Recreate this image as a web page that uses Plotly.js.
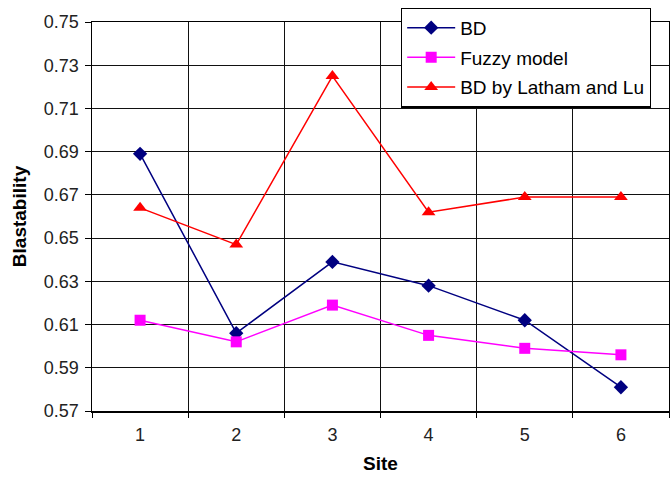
<!DOCTYPE html>
<html>
<head>
<meta charset="utf-8">
<script src="https://cdn.plot.ly/plotly-3.0.1.min.js"></script>
<style>html,body{margin:0;padding:0;background:#fff;}#chart{width:670px;height:479px;}</style>
</head>
<body>
<div id="chart"></div>
<script>
const sites = [1, 2, 3, 4, 5, 6];
const siteLabels = ["1", "2", "3", "4", "5", "6"];
const bd = [0.689, 0.606, 0.639, 0.628, 0.612, 0.581];
const fuzzy = [0.612, 0.602, 0.619, 0.605, 0.599, 0.596];
const latham = [0.664, 0.647, 0.725, 0.662, 0.669, 0.669];
const yTicks = [0.57, 0.59, 0.61, 0.63, 0.65, 0.67, 0.69, 0.71, 0.73, 0.75];

const font = 'Liberation Sans, Arial, sans-serif';

const traces = [
  {x: sites, y: bd, name: 'BD', mode: 'lines+markers', legendgroup: 'a',
   line: {color: '#000080', width: 1.5}, marker: {symbol: 'diamond', size: 11, color: '#000080'}},
  {x: sites, y: fuzzy, name: 'Fuzzy model', mode: 'lines+markers', legendgroup: 'b',
   line: {color: '#FF00FF', width: 1.5}, marker: {symbol: 'square', size: 11, color: '#FF00FF'}},
  {x: sites, y: latham, name: 'BD by Latham and Lu', mode: 'lines+markers', legendgroup: 'c',
   line: {color: '#FF0000', width: 1.5}, marker: {symbol: 'triangle-up', size: 12, color: '#FF0000'}}
];

const layout = {
  width: 670, height: 479,
  margin: {l: 92, r: 1, t: 22, b: 68, pad: 0},
  paper_bgcolor: '#fff', plot_bgcolor: '#fff',
  font: {family: font, color: '#000', size: 18},
  showlegend: true,
  legend: {
    x: 0.5355, xanchor: 'left', y: 1.037, yanchor: 'top',
    bgcolor: '#fff', bordercolor: '#000', borderwidth: 1.2,
    font: {family: font, size: 19, color: '#000'},
    tracegroupgap: 2, traceorder: 'grouped', itemwidth: 48
  },
  xaxis: {
    range: [0.5, 6.5], tickmode: 'array', tickvals: sites, ticktext: siteLabels,
    ticks: '', showgrid: false, zeroline: false,
    showline: true, linecolor: '#000', linewidth: 1.5, mirror: true,
    tickfont: {family: font, size: 18, color: '#222'},
    ticklabelstandoff: 7,
    minor: {tick0: 0.5, dtick: 1, ticks: 'outside', ticklen: 5, tickcolor: '#000', tickwidth: 1,
            showgrid: true, gridcolor: '#111', gridwidth: 1},
    title: {text: 'Site', font: {family: font, size: 19, color: '#000', weight: 'bold'}, standoff: 12}
  },
  yaxis: {
    range: [0.57, 0.75], tickmode: 'array', tickvals: yTicks, tickformat: '.2f',
    ticks: 'outside', ticklen: 6, tickcolor: '#000', tickwidth: 1,
    showgrid: true, gridcolor: '#111', gridwidth: 1, zeroline: false,
    showline: true, linecolor: '#000', linewidth: 1.5, mirror: true,
    tickfont: {family: font, size: 18, color: '#222'},
    ticklabelstandoff: 2,
    title: {text: 'Blastability', font: {family: font, size: 19, color: '#000', weight: 'bold'}, standoff: 12}
  }
};

Plotly.newPlot('chart', traces, layout, {displayModeBar: false, staticPlot: true});
</script>
</body>
</html>
